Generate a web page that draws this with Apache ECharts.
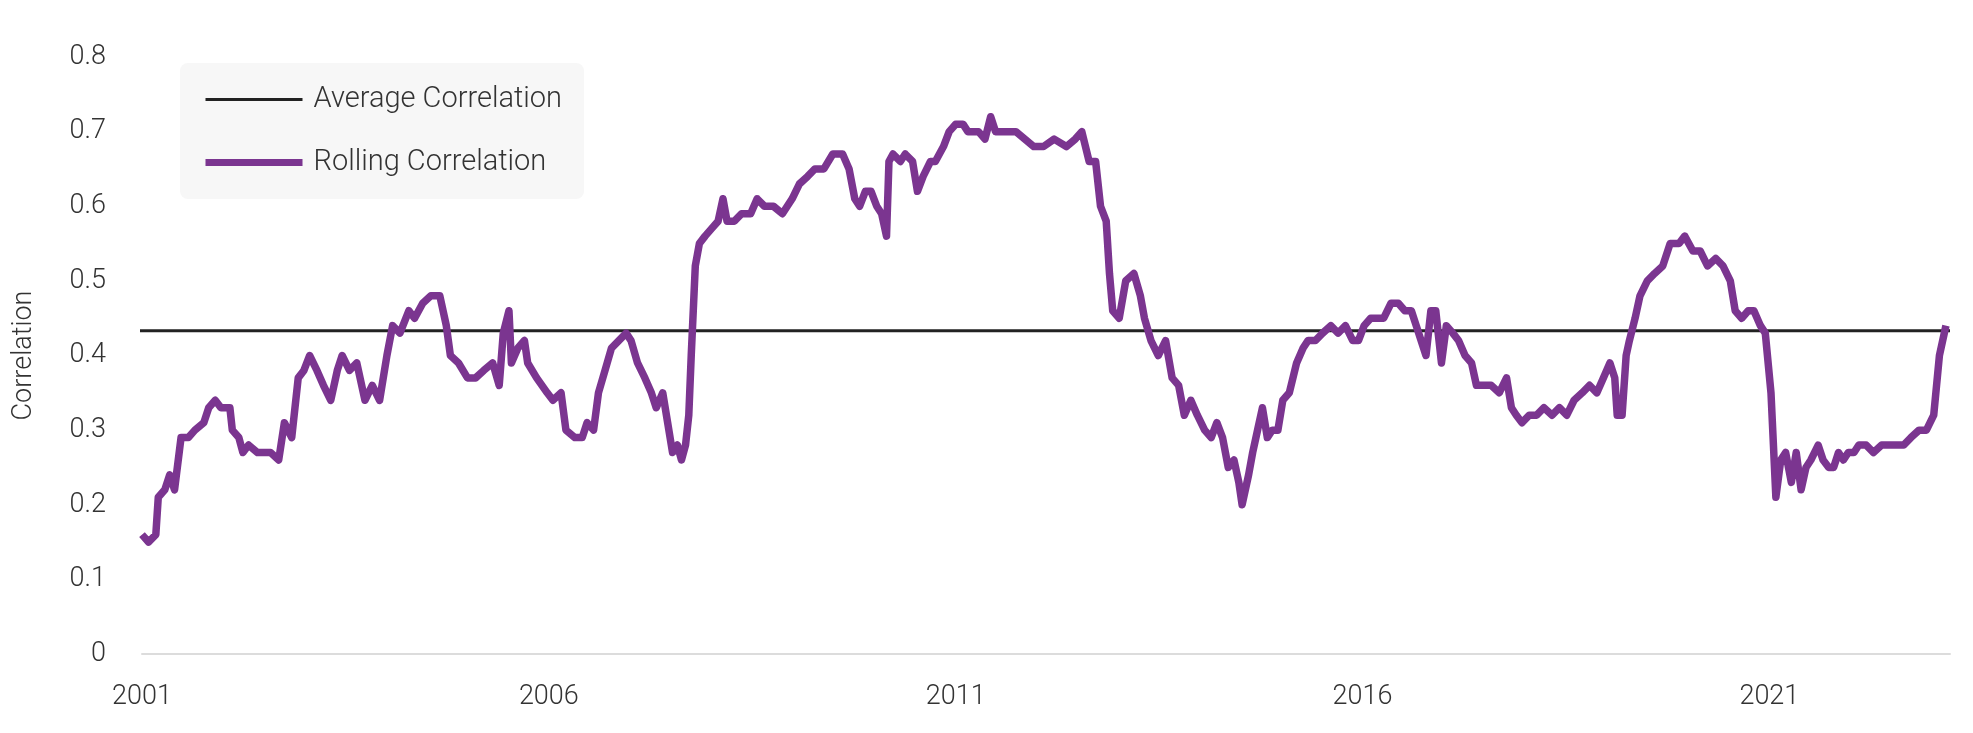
<!DOCTYPE html>
<html><head><meta charset="utf-8">
<script src="https://cdn.jsdelivr.net/npm/echarts@6/dist/echarts.min.js"></script>
<style>html,body{margin:0;padding:0;background:#fff}#c{width:1973px;height:733px}</style>
</head><body><div id="c"></div>
<script>
const years=[0,0.08,0.17,0.20,0.28,0.34,0.40,0.48,0.57,0.65,0.76,0.82,0.90,0.97,1.08,1.11,1.19,1.24,1.31,1.42,1.58,1.68,1.75,1.84,1.92,1.99,2.06,2.15,2.23,2.32,2.40,2.46,2.55,2.64,2.74,2.83,2.92,3.01,3.08,3.17,3.28,3.35,3.45,3.55,3.66,3.74,3.79,3.89,4.00,4.10,4.20,4.31,4.39,4.44,4.51,4.54,4.62,4.70,4.74,4.85,4.98,5.05,5.15,5.21,5.32,5.41,5.47,5.55,5.61,5.69,5.77,5.86,5.95,6.01,6.09,6.18,6.26,6.32,6.40,6.46,6.52,6.58,6.63,6.68,6.72,6.75,6.80,6.85,6.92,7.00,7.08,7.14,7.19,7.28,7.37,7.48,7.56,7.65,7.76,7.87,7.99,8.08,8.18,8.27,8.38,8.49,8.61,8.69,8.76,8.82,8.89,8.96,9.03,9.09,9.15,9.18,9.23,9.32,9.38,9.47,9.53,9.60,9.69,9.75,9.85,9.92,10.00,10.09,10.15,10.28,10.36,10.43,10.49,10.62,10.74,10.85,10.96,11.08,11.21,11.36,11.47,11.55,11.64,11.72,11.78,11.85,11.89,11.93,12.01,12.09,12.19,12.27,12.32,12.40,12.49,12.58,12.66,12.74,12.81,12.89,12.97,13.06,13.14,13.21,13.28,13.35,13.42,13.48,13.52,13.60,13.65,13.71,13.77,13.83,13.89,13.96,14.02,14.10,14.19,14.27,14.33,14.42,14.51,14.61,14.70,14.79,14.88,14.95,15.02,15.10,15.18,15.26,15.35,15.44,15.52,15.60,15.66,15.72,15.78,15.84,15.90,15.97,16.03,16.11,16.18,16.26,16.34,16.40,16.49,16.58,16.68,16.77,16.83,16.89,16.96,17.05,17.14,17.23,17.33,17.42,17.51,17.60,17.70,17.79,17.88,17.96,18.04,18.10,18.13,18.19,18.24,18.28,18.35,18.41,18.50,18.59,18.69,18.78,18.89,18.96,19.06,19.15,19.24,19.34,19.43,19.52,19.58,19.66,19.74,19.81,19.89,19.95,20.02,20.08,20.14,20.20,20.27,20.33,20.39,20.45,20.51,20.60,20.66,20.73,20.79,20.85,20.91,20.97,21.04,21.10,21.19,21.28,21.38,21.47,21.56,21.65,21.74,21.84,21.93,22.02,22.09,22.17].map(v=>2001+v);
const rolling=[0.16,0.15,0.16,0.21,0.22,0.24,0.22,0.29,0.29,0.30,0.31,0.33,0.34,0.33,0.33,0.30,0.29,0.27,0.28,0.27,0.27,0.26,0.31,0.29,0.37,0.38,0.40,0.38,0.36,0.34,0.38,0.40,0.38,0.39,0.34,0.36,0.34,0.40,0.44,0.43,0.46,0.45,0.47,0.48,0.48,0.44,0.40,0.39,0.37,0.37,0.38,0.39,0.36,0.43,0.46,0.39,0.41,0.42,0.39,0.37,0.35,0.34,0.35,0.30,0.29,0.29,0.31,0.30,0.35,0.38,0.41,0.42,0.43,0.42,0.39,0.37,0.35,0.33,0.35,0.31,0.27,0.28,0.26,0.28,0.32,0.40,0.52,0.55,0.56,0.57,0.58,0.61,0.58,0.58,0.59,0.59,0.61,0.60,0.60,0.59,0.61,0.63,0.64,0.65,0.65,0.67,0.67,0.65,0.61,0.60,0.62,0.62,0.60,0.59,0.56,0.66,0.67,0.66,0.67,0.66,0.62,0.64,0.66,0.66,0.68,0.70,0.71,0.71,0.70,0.70,0.69,0.72,0.70,0.70,0.70,0.69,0.68,0.68,0.69,0.68,0.69,0.70,0.66,0.66,0.60,0.58,0.51,0.46,0.45,0.50,0.51,0.48,0.45,0.42,0.40,0.42,0.37,0.36,0.32,0.34,0.32,0.30,0.29,0.31,0.29,0.25,0.26,0.23,0.20,0.24,0.27,0.30,0.33,0.29,0.30,0.30,0.34,0.35,0.39,0.41,0.42,0.42,0.43,0.44,0.43,0.44,0.42,0.42,0.44,0.45,0.45,0.45,0.47,0.47,0.46,0.46,0.44,0.42,0.40,0.46,0.46,0.39,0.44,0.43,0.42,0.40,0.39,0.36,0.36,0.36,0.35,0.37,0.33,0.32,0.31,0.32,0.32,0.33,0.32,0.33,0.32,0.34,0.35,0.36,0.35,0.37,0.39,0.37,0.32,0.32,0.40,0.42,0.45,0.48,0.50,0.51,0.52,0.55,0.55,0.56,0.54,0.54,0.52,0.53,0.52,0.50,0.46,0.45,0.46,0.46,0.44,0.43,0.35,0.21,0.26,0.27,0.23,0.27,0.22,0.25,0.26,0.28,0.26,0.25,0.25,0.27,0.26,0.27,0.27,0.28,0.28,0.27,0.28,0.28,0.28,0.28,0.29,0.30,0.30,0.32,0.40,0.44];
const averageValue=0.433;
const yTicks=[0,0.1,0.2,0.3,0.4,0.5,0.6,0.7,0.8];
const xMin=2001, xMax=2023.22;
const font='Roboto';
const chart=echarts.init(document.getElementById('c'));
chart.setOption({
  animation:false,
  grid:{left:142,right:23,top:57,bottom:79},
  legend:{orient:'vertical',left:180,top:63,padding:[22,22,22,22],itemGap:34,itemWidth:97,itemHeight:12,
    backgroundColor:'#f7f7f7',borderRadius:8,
    textStyle:{fontFamily:font,fontSize:29,color:'#333',fontWeight:300,padding:[0,0,0,6]},
    data:[{name:'Average Correlation',itemStyle:{opacity:0},lineStyle:{width:3}},
          {name:'Rolling Correlation',itemStyle:{opacity:0},lineStyle:{width:7}}]},
  xAxis:{type:'value',min:xMin,max:xMax,interval:5,
    axisLine:{lineStyle:{color:'#dcdcdc',width:2}},axisTick:{show:false},splitLine:{show:false},
    axisLabel:{showMaxLabel:false,margin:30,fontFamily:font,fontSize:27,color:'#333',fontWeight:300,formatter:v=>String(Math.round(v))}},
  yAxis:{type:'value',min:0,max:0.8,interval:0.1,name:'Correlation',nameLocation:'middle',nameGap:104,
    nameTextStyle:{fontFamily:font,fontSize:27,color:'#333',fontWeight:300},
    axisLine:{show:false},axisTick:{show:false},splitLine:{show:false},
    axisLabel:{margin:36,fontFamily:font,fontSize:27,color:'#333',fontWeight:300,formatter:v=>{const t=yTicks.find(x=>Math.abs(x-v)<1e-6);return t===0?'0':String(t);}}},
  series:[
    {name:'Average Correlation',type:'line',symbol:'none',color:'#222',lineStyle:{width:3,color:'#222'},
      data:[[xMin-0.1,averageValue],[xMax,averageValue]],z:1},
    {name:'Rolling Correlation',type:'line',symbol:'none',color:'#7b3590',lineStyle:{width:7.5,color:'#7b3590',join:'round'},
      data:years.map((y,i)=>[y,rolling[i]]),z:2}
  ]
});
</script></body></html>
